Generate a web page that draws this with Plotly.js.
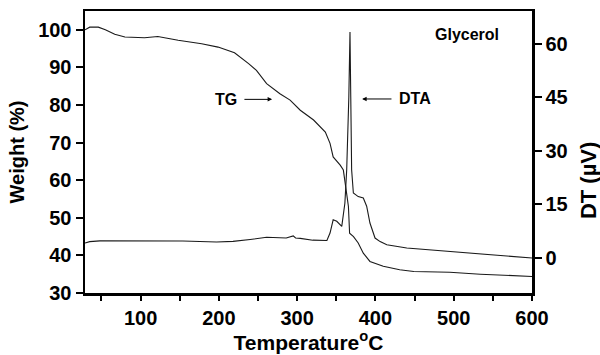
<!DOCTYPE html>
<html>
<head>
<meta charset="utf-8">
<script src="https://cdn.plot.ly/plotly-3.0.1.min.js"></script>
<style>html,body{margin:0;padding:0;background:#fff;}#chart{width:600px;height:355px;}</style>
</head>
<body>
<div id="chart"></div>
<script>
// TG curve: temperature (°C) vs weight (%)
const tgTemp = [29, 35, 46, 55, 67, 80, 105, 122, 148, 178, 199, 220, 238, 248, 261, 278, 291, 304, 321, 336, 342, 346, 355, 359, 362, 365.5, 367, 372, 378, 384.5, 393, 410, 431, 449, 495, 534, 600];
const tgWeight = [100.0, 100.7, 100.7, 100.0, 98.8, 98.1, 97.9, 98.2, 97.2, 96.3, 95.4, 93.9, 91.0, 89.2, 85.7, 83.0, 81.3, 78.6, 76.0, 72.8, 69.8, 66.2, 64.0, 62.7, 58.3, 53.0, 45.9, 45.0, 43.3, 40.6, 38.4, 37.1, 36.2, 35.7, 35.5, 35.0, 34.4];

// DTA curve: temperature (°C) vs DT (µV)
const dtaTemp = [29, 35, 48, 90, 154, 197, 218, 240, 261, 286, 292, 295, 298, 304, 320, 338, 342, 346, 350.6, 357, 361, 363.3, 366, 367.5, 368.5, 369.6, 371.8, 378, 384.5, 388.8, 393, 399.5, 406, 414.5, 440, 495, 600];
const dtaDT = [4.2, 4.6, 4.8, 4.85, 4.75, 4.5, 4.65, 5.2, 5.8, 5.6, 5.9, 6.2, 5.6, 5.5, 5.0, 4.9, 7.0, 10.7, 10.3, 8.85, 15.4, 24.7, 45, 63.3, 45, 24.7, 18.2, 17.2, 16.8, 14.5, 9.8, 5.6, 4.6, 3.7, 2.8, 1.85, 0];

// Tick labels
const xTicks = [100, 200, 300, 400, 500, 600];
const yTicks = [30, 40, 50, 60, 70, 80, 90, 100];
const y2Ticks = [0, 15, 30, 45, 60];

const FONT = 'Liberation Sans, Arial, sans-serif';
const bold = (size) => ({family: FONT, size: size, color: '#000', weight: 'bold'});

const traces = [
  {x: tgTemp, y: tgWeight, type: 'scatter', mode: 'lines', yaxis: 'y',
   line: {color: '#1a1a1a', width: 1.1}, hoverinfo: 'skip', showlegend: false},
  {x: dtaTemp, y: dtaDT, type: 'scatter', mode: 'lines', yaxis: 'y2',
   line: {color: '#1a1a1a', width: 1.1}, hoverinfo: 'skip', showlegend: false}
];

const layout = {
  width: 600, height: 355,
  margin: {l: 85, r: 68, t: 11, b: 62},
  paper_bgcolor: '#fff', plot_bgcolor: '#fff',
  showlegend: false,
  xaxis: {
    range: [29, 600], tickvals: xTicks, ticktext: xTicks.map(String),
    ticks: 'outside', ticklen: 5, tickwidth: 2, tickcolor: '#000',
    showline: true, linewidth: 2.5, linecolor: '#000', mirror: true,
    showgrid: false, zeroline: false,
    tickfont: bold(20),
    minor: {tickvals: [50, 150, 250, 350, 450, 550], ticks: 'outside', ticklen: 5, tickwidth: 2, tickcolor: '#000', showgrid: false},
    title: {text: 'Temperature<sup>o</sup>C', font: bold(21), standoff: 6}
  },
  yaxis: {
    range: [30, 105], tickvals: yTicks, ticktext: yTicks.map(String),
    ticks: 'outside', ticklen: 7, tickwidth: 2, tickcolor: '#000',
    showline: true, linewidth: 2.5, linecolor: '#000',
    showgrid: false, zeroline: false,
    tickfont: bold(20),
    title: {text: 'Weight (%)', font: bold(20), standoff: 8}
  },
  yaxis2: {
    overlaying: 'y', side: 'right',
    range: [-9.8, 69.2], tickvals: y2Ticks, ticktext: y2Ticks.map(String),
    ticks: 'outside', ticklen: 7, tickwidth: 2, tickcolor: '#000',
    showline: true, linewidth: 2.5, linecolor: '#000',
    showgrid: false, zeroline: false,
    tickfont: bold(20)
  },
  annotations: [
    {text: 'TG', x: 268, y: 81.5, ax: 209, ay: 81.5, xref: 'x', yref: 'y', axref: 'x', ayref: 'y',
     showarrow: true, arrowhead: 2, arrowsize: 0.9, arrowwidth: 1, arrowcolor: '#000',
     startstandoff: 6, font: bold(16)},
    {text: 'DTA', x: 383, y: 81.6, ax: 450.5, ay: 81.6, xref: 'x', yref: 'y', axref: 'x', ayref: 'y',
     showarrow: true, arrowhead: 2, arrowsize: 0.9, arrowwidth: 1, arrowcolor: '#000',
     startstandoff: 6, font: bold(16)},
    {text: 'Glycerol', x: 517, y: 98.8, xref: 'x', yref: 'y', showarrow: false, font: bold(16)},
    {text: 'DT (µV)', x: 1.125, y: 0.40, xref: 'paper', yref: 'paper', xanchor: 'center', yanchor: 'middle',
     showarrow: false, textangle: -90, font: bold(22)}
  ]
};

Plotly.newPlot('chart', traces, layout, {staticPlot: true, displayModeBar: false});
</script>
</body>
</html>
